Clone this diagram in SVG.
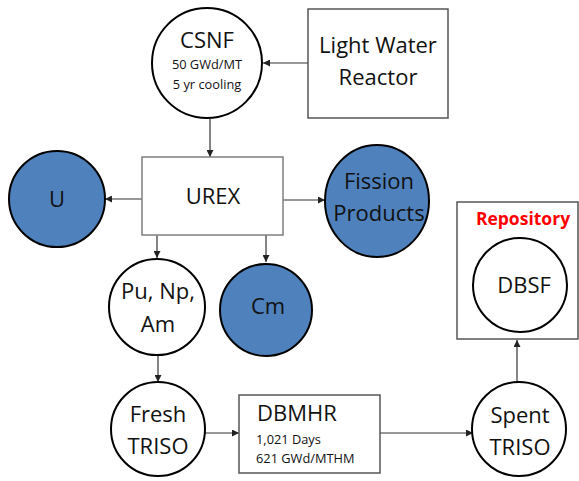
<svg xmlns="http://www.w3.org/2000/svg" width="579" height="481" viewBox="0 0 579 481">
<style>
text{font-family:"Open Sans","Liberation Sans",sans-serif;fill:#111;text-anchor:middle}
.big{font-size:22px}
.sm{font-size:12.8px}
.c{fill:#fff;stroke:#000;stroke-width:2}
.b{fill:#4F81BD;stroke:#000;stroke-width:2}
.box{fill:#fff;stroke:#7f7f7f;stroke-width:1.5}
.ln{fill:none;stroke:#333;stroke-width:1.2;marker-end:url(#ah)}
</style>
<defs>
<marker id="ah" viewBox="0 0 10 10" refX="10" refY="5" markerWidth="7" markerHeight="7" markerUnits="userSpaceOnUse" orient="auto">
<path d="M0,0L10,5L0,10z" fill="#222"/>
</marker>
</defs>
<g id="connectors">
<line class="ln" x1="308" y1="63" x2="263" y2="63"/>
<line class="ln" x1="210" y1="119" x2="210" y2="157"/>
<line class="ln" x1="142" y1="199" x2="105" y2="199"/>
<line class="ln" x1="283" y1="200" x2="325" y2="200"/>
<line class="ln" x1="157" y1="235" x2="157" y2="258"/>
<line class="ln" x1="266" y1="235" x2="266" y2="262"/>
<line class="ln" x1="158" y1="356" x2="158" y2="382"/>
<line class="ln" x1="205" y1="433" x2="239" y2="433"/>
<line class="ln" x1="380" y1="433" x2="473" y2="433"/>
<line class="ln" x1="517" y1="382" x2="517" y2="340"/>
</g>
<g id="csnf">
<ellipse class="c" cx="207" cy="63" rx="55" ry="55"/>
<text class="big" x="207" y="48">CSNF</text>
<text class="sm" x="207" y="69">50 GWd/MT</text>
<text class="sm" x="207" y="89">5 yr cooling</text>
</g>
<g id="lwr">
<rect class="box" x="308" y="9" width="140" height="109" style="stroke:#555"/>
<text class="big" x="378" y="53">Light Water</text>
<text class="big" x="378" y="85">Reactor</text>
</g>
<g id="urex">
<rect class="box" x="142" y="157" width="141" height="78"/>
<text class="big" x="213" y="204">UREX</text>
</g>
<g id="u">
<circle class="b" cx="57" cy="199" r="48"/>
<text class="big" x="57" y="207">U</text>
</g>
<g id="fp">
<ellipse class="b" cx="377" cy="201" rx="52" ry="56"/>
<text class="big" x="379" y="189">Fission</text>
<text class="big" x="379" y="221">Products</text>
</g>
<g id="pu">
<circle class="c" cx="157" cy="307" r="48"/>
<text class="big" x="158" y="299">Pu, Np,</text>
<text class="big" x="158" y="332">Am</text>
</g>
<g id="cm">
<circle class="b" cx="266" cy="310" r="46"/>
<text class="big" x="268" y="314">Cm</text>
</g>
<g id="repository">
<rect class="box" x="457" y="202" width="121" height="137" style="stroke:#555"/>
<text x="523" y="225" style="font-size:17.5px;font-weight:bold;fill:#FF0000">Repository</text>
</g>
<g id="dbsf">
<circle class="c" cx="520" cy="285" r="47"/>
<text class="big" x="524" y="293">DBSF</text>
</g>
<g id="fresh">
<circle class="c" cx="158" cy="429" r="47"/>
<text class="big" x="158" y="422">Fresh</text>
<text class="big" x="158" y="454">TRISO</text>
</g>
<g id="dbmhr">
<rect class="box" x="239" y="395" width="141" height="78" style="stroke:#555"/>
<text class="big" x="257" y="421" style="text-anchor:start">DBMHR</text>
<text class="sm" x="256" y="444" style="text-anchor:start">1,021 Days</text>
<text class="sm" x="256" y="463" style="text-anchor:start">621 GWd/MTHM</text>
</g>
<g id="spent">
<circle class="c" cx="519" cy="429" r="47"/>
<text class="big" x="520" y="423">Spent</text>
<text class="big" x="520" y="455">TRISO</text>
</g>
</svg>
